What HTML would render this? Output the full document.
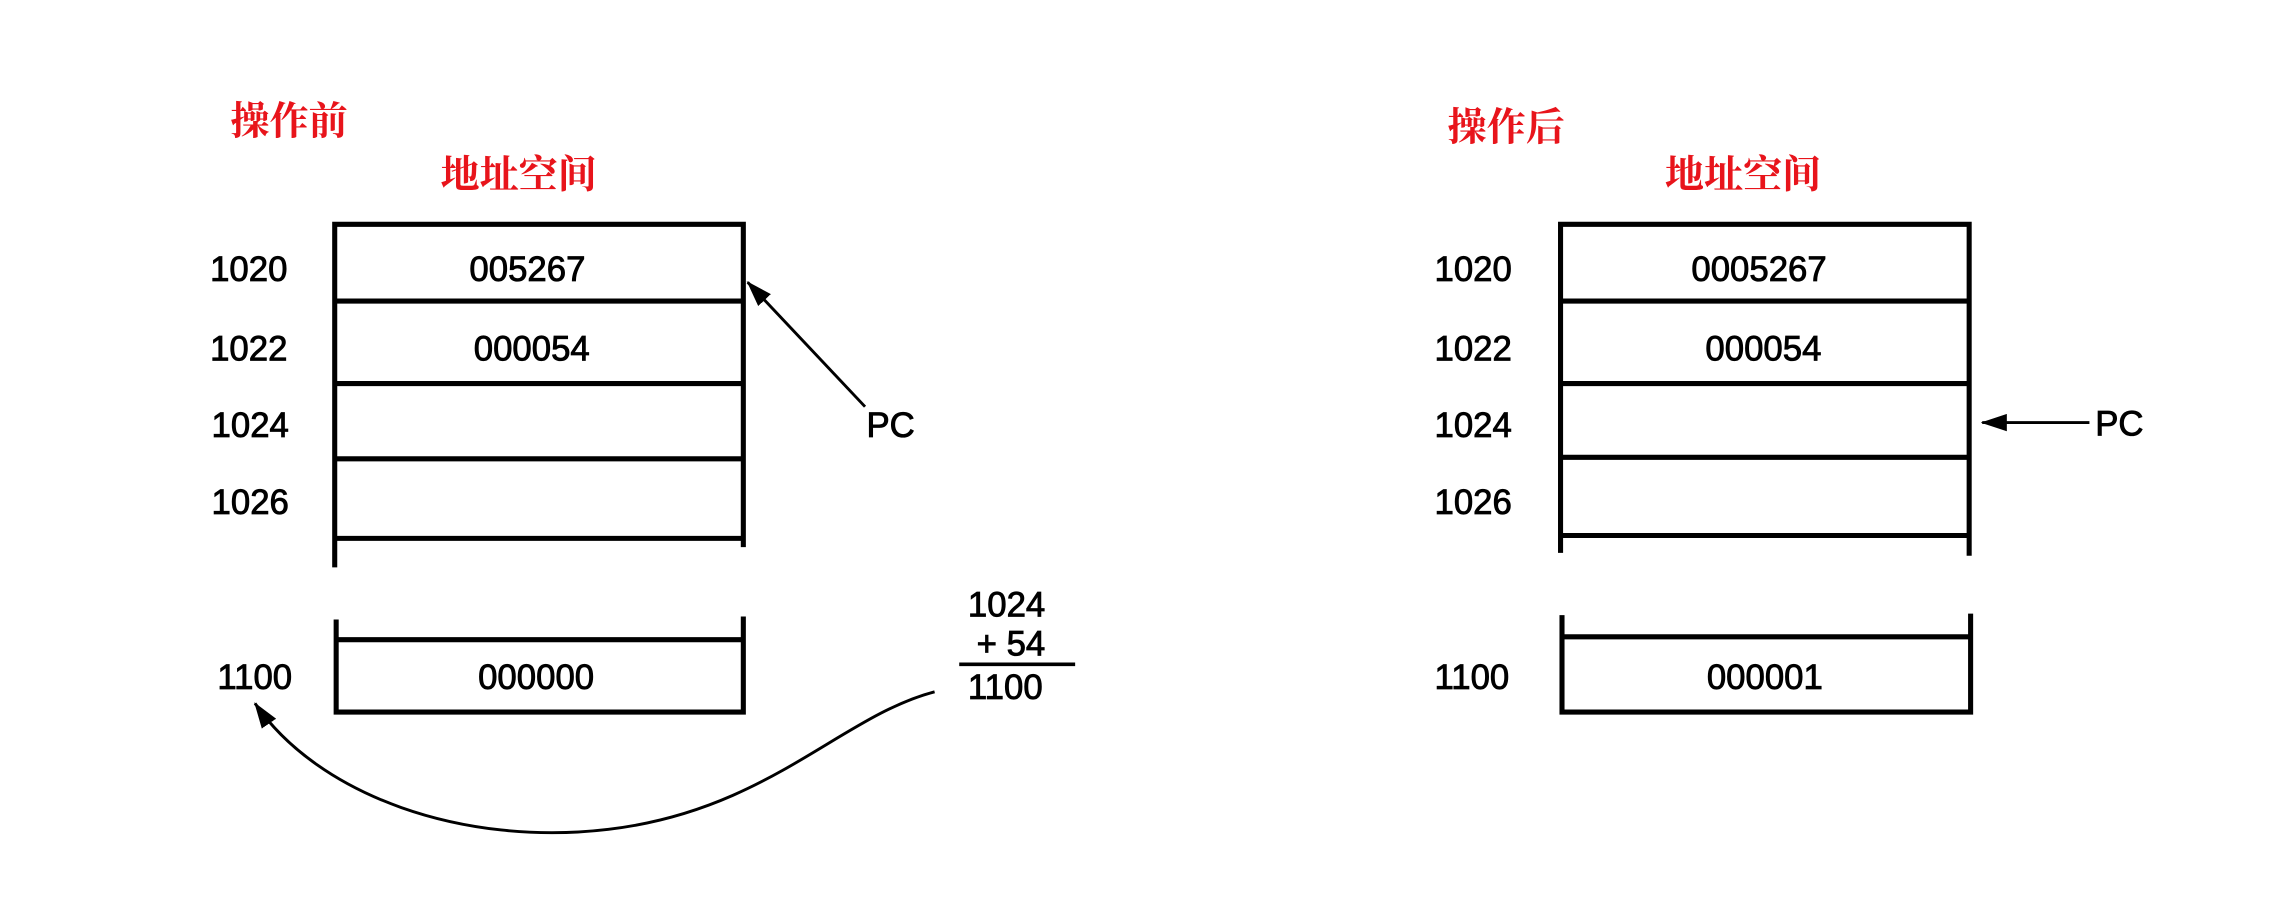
<!DOCTYPE html>
<html><head><meta charset="utf-8"><style>
html,body{margin:0;padding:0;background:#fff;}
svg{display:block;}
.n{font-family:"Liberation Sans",sans-serif;font-size:24px;fill:#000;stroke:#000;stroke-width:0.6;}
.r{font-family:"Liberation Serif","Noto Serif CJK SC",serif;font-weight:bold;font-size:27px;fill:#e8141b;}
.l{stroke:#000;stroke-width:3.5;fill:none;}
</style></head><body>
<svg width="2272" height="906" viewBox="0 0 1568 626" preserveAspectRatio="none" xmlns="http://www.w3.org/2000/svg">
<defs>
<marker id="ah2" markerWidth="18" markerHeight="12" refX="17" refY="6" orient="auto" markerUnits="userSpaceOnUse"><path d="M0,0 L18,6 L0,12 z" fill="#000"/></marker></defs>

<g>
<text class="r" x="159" y="93">操作前</text>
<text class="r" x="304" y="130">地址空间</text>
<g>
<path class="l" d="M231,392 V155 H513 V378"/>
<path class="l" d="M231,208 H513 M231,265 H513 M231,317 H513 M231,372 H513"/>
<path class="l" d="M232,428 V492 H513 V426 M232,442 H513"/>
</g>
<text class="n" x="145" y="194">1020</text>
<text class="n" x="145" y="249">1022</text>
<text class="n" x="146" y="302">1024</text>
<text class="n" x="146" y="355">1026</text>
<text class="n" x="150" y="476">1100</text>
<text class="n" x="364" y="194" text-anchor="middle">005267</text>
<text class="n" x="367" y="249" text-anchor="middle">000054</text>
<text class="n" x="370" y="476" text-anchor="middle">000000</text>
<path d="M597,281 L516,195" stroke="#000" stroke-width="2" fill="none" marker-end="url(#ah2)"/>
<text class="n" x="598" y="302">PC</text>
<text class="n" x="668" y="426">1024</text>
<text class="n" x="674" y="453">+ 54</text>
<path d="M662,459 H742" stroke="#000" stroke-width="2.5"/>
<text class="n" x="668" y="483">1100</text>
<path d="M645,478 C580,495 530,560 420,573 C320,585 220,550 176,486" stroke="#000" stroke-width="2" fill="none" marker-end="url(#ah2)"/>
</g>

<g>
<text class="r" x="999" y="97">操作后</text>
<text class="r" x="1149" y="130">地址空间</text>
<g>
<path class="l" d="M1077,382 V155 H1359 V384"/>
<path class="l" d="M1077,208 H1359 M1077,265 H1360 M1077,316 H1360 M1077,370 H1360"/>
<path class="l" d="M1078,425 V492 H1360 V424 M1078,440 H1360"/>
</g>
<text class="n" x="990" y="194">1020</text>
<text class="n" x="990" y="249">1022</text>
<text class="n" x="990" y="302">1024</text>
<text class="n" x="990" y="355">1026</text>
<text class="n" x="990" y="476">1100</text>
<text class="n" x="1214" y="194" text-anchor="middle">0005267</text>
<text class="n" x="1217" y="249" text-anchor="middle">000054</text>
<text class="n" x="1218" y="476" text-anchor="middle">000001</text>
<path d="M1442,292 L1368,292" stroke="#000" stroke-width="2" fill="none" marker-end="url(#ah2)"/>
<text class="n" x="1446" y="301">PC</text>
</g>
</svg>
</body></html>
